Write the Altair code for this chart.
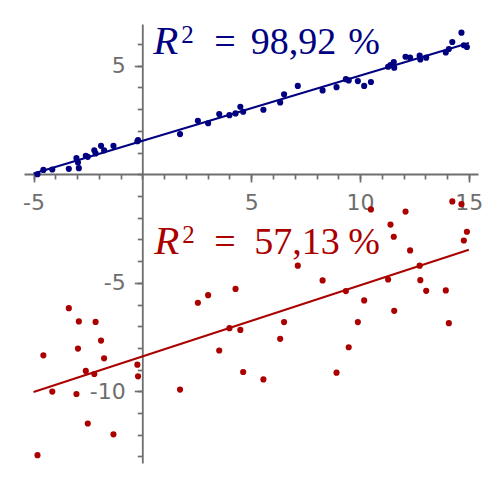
import altair as alt
import pandas as pd

# shared x values of the points
x_vals = [-4.82, -4.55, -4.14, -3.38, -3.03, -2.96, -2.92, -2.60, -2.51, -2.21,
          -2.15, -1.90, -1.76, -1.33, -0.23, -0.20, 1.73, 2.55, 3.02, 3.53,
          4.00, 4.28, 4.50, 4.63, 5.56, 6.33, 6.51, 7.14, 8.28, 8.92,
          9.35, 9.48, 9.90, 10.19, 10.50, 11.29, 11.40, 11.55, 11.57, 12.09,
          12.30, 12.74, 12.77, 13.04, 13.94, 14.08, 14.24, 14.66, 14.77, 14.91]

# blue series (strong correlation)
blue_vals = [0.00, 0.20, 0.22, 0.25, 0.74, 0.54, 0.28, 0.85, 0.80, 1.10,
             0.96, 1.31, 1.10, 1.31, 1.52, 1.57, 1.85, 2.46, 2.35, 2.77,
             2.72, 2.80, 3.11, 2.88, 2.97, 3.31, 3.68, 4.07, 3.86, 4.01,
             4.38, 4.32, 4.29, 4.07, 4.25, 4.95, 5.03, 5.17, 4.91, 5.41,
             5.37, 5.46, 5.29, 5.37, 5.61, 5.77, 6.09, 6.52, 5.94, 5.86]

# red series (weak correlation)
red_vals = [-12.94, -8.34, -10.01, -6.17, -10.12, -8.03, -6.78, -9.06, -11.48, -9.20,
            -6.80, -7.66, -8.48, -11.98, -8.77, -9.31, -9.92, -5.92, -5.57, -8.12,
            -7.09, -5.28, -7.17, -9.11, -9.45, -7.58, -6.81, -4.21, -4.89, -9.14,
            -5.38, -7.97, -6.81, -5.81, -1.62, -4.85, -2.32, -2.88, -6.29, -1.72,
            -3.51, -4.21, -4.88, -5.37, -5.35, -6.86, -1.25, -1.38, -3.05, -2.65]

r2_blue = "98,92"
r2_red = "57,13"

BLUE = "#000080"
RED = "#aa0000"
GRAY = "#6e6e6e"

df = pd.DataFrame({"x": x_vals, "blue": blue_vals, "red": red_vals})

xs = alt.Scale(domain=[-5.44, 15.42], nice=False, zero=False)
ys = alt.Scale(domain=[-13.3, 6.92], nice=False, zero=False)

W, H = 454, 439
XOFF = -289
YOFF = -118.3

common = dict(grid=False, title=None, tickColor=GRAY, tickWidth=1.7,
              domainColor=GRAY, domainWidth=1.8)

minor_x = alt.Axis(values=list(range(-5, 16)), tickSize=5, labels=False, domain=True,
                   orient="bottom", offset=XOFF, **common)
major_x = alt.Axis(values=[-5, 5, 10, 15], tickSize=8, labels=True, domain=False,
                   labelExpr="datum.value + ''", labelFont="DejaVu Sans", labelFontSize=22,
                   labelColor=GRAY, labelPadding=10, labelFlush=False, labelOverlap=False,
                   orient="bottom", offset=XOFF, **common)
minor_y = alt.Axis(values=list(range(-13, 7)), tickSize=5, labels=False, domain=True,
                   orient="left", offset=YOFF, **common)
major_y = alt.Axis(values=[-10, -5, 5], tickSize=8, labels=True, domain=False,
                   labelExpr="datum.value + ''", labelFont="DejaVu Sans", labelFontSize=22,
                   labelColor=GRAY, labelPadding=9, labelFlush=False, labelOverlap=False,
                   orient="left", offset=YOFF, **common)

base = alt.Chart(df)

pts_blue = base.mark_circle(size=38, color=BLUE, opacity=1).encode(
    x=alt.X("x:Q", scale=xs, axis=minor_x),
    y=alt.Y("blue:Q", scale=ys, axis=minor_y),
)
pts_red = base.mark_circle(size=38, color=RED, opacity=1).encode(
    x=alt.X("x:Q", scale=xs, axis=major_x),
    y=alt.Y("red:Q", scale=ys, axis=major_y),
)
line_blue = base.transform_regression("x", "blue", extent=[-5, 15]).mark_line(
    color=BLUE, strokeWidth=2).encode(
    x=alt.X("x:Q", scale=xs, axis=None),
    y=alt.Y("blue:Q", scale=ys, axis=None),
)
line_red = base.transform_regression("x", "red", extent=[-5, 15]).mark_line(
    color=RED, strokeWidth=2).encode(
    x=alt.X("x:Q", scale=xs, axis=None),
    y=alt.Y("red:Q", scale=ys, axis=None),
)

def piece(text, x, y, color, size, style="normal"):
    return alt.Chart(pd.DataFrame({"t": [text]})).mark_text(
        align="left", baseline="alphabetic", font="Liberation Serif",
        fontSize=size, fontStyle=style, color=color).encode(
        x=alt.X(datum=x, type="quantitative", scale=xs, axis=None),
        y=alt.Y(datum=y, type="quantitative", scale=ys, axis=None),
        text="t:N",
    )

texts = [
    piece("R", 0.50, 5.56, BLUE, 41, "italic"),
    piece("2", 1.78, 6.06, BLUE, 25),
    piece("=", 3.30, 5.56, BLUE, 38),
    piece(r2_blue, 4.98, 5.56, BLUE, 38),
    piece("%", 9.46, 5.56, BLUE, 38),
    piece("R", 0.55, -3.67, RED, 41, "italic"),
    piece("2", 1.83, -3.17, RED, 25),
    piece("=", 3.30, -3.67, RED, 38),
    piece(r2_red, 5.14, -3.67, RED, 38),
    piece("%", 9.46, -3.67, RED, 38),
]

chart = alt.layer(pts_blue, pts_red, line_blue, line_red, *texts).resolve_axis(
    x="independent", y="independent"
).properties(
    width=W, height=H, autosize=alt.AutoSizeParams(type="none"),
    padding={"left": 16, "top": 16, "right": 12, "bottom": 10},
).configure_view(stroke=None)

chart.save("out.html", embed_options={"renderer": "svg", "actions": False})
